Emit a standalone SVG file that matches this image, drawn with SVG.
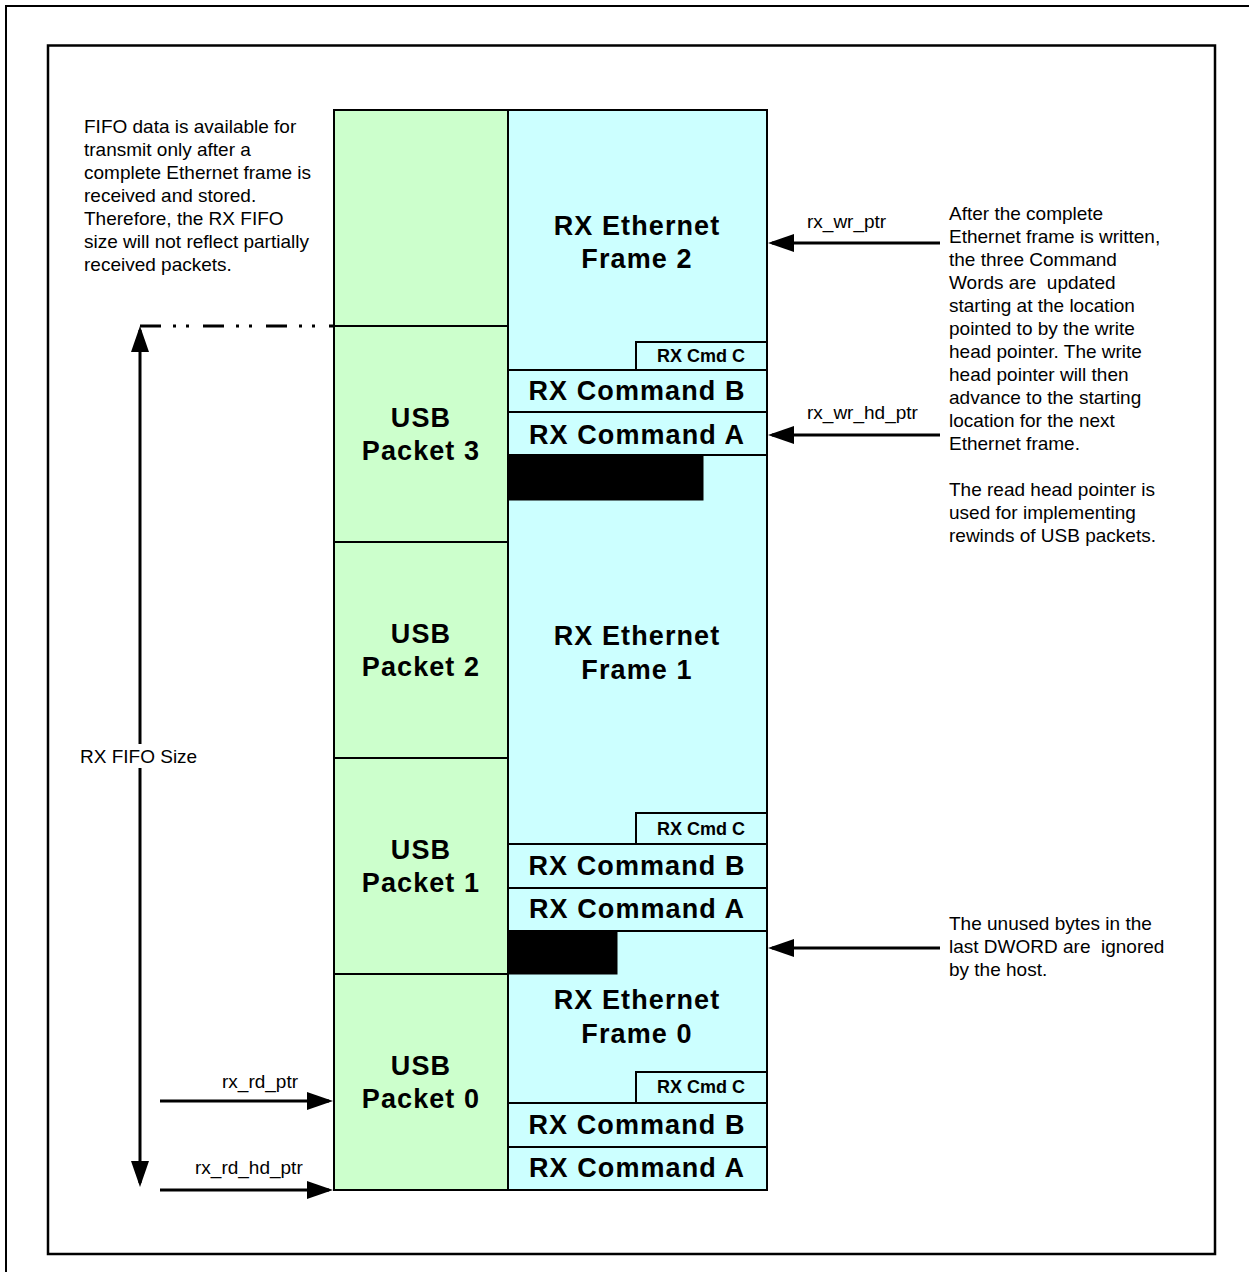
<svg xmlns="http://www.w3.org/2000/svg" width="1249" height="1272" viewBox="0 0 1249 1272">
<defs>
<style>
.t{font-family:"Liberation Sans",Arial,sans-serif;font-size:19px;fill:#000}
.b{font-family:"Liberation Sans",Arial,sans-serif;font-size:27px;font-weight:bold;fill:#000;text-anchor:middle;letter-spacing:1.1px}
.c{font-family:"Liberation Sans",Arial,sans-serif;font-size:18px;font-weight:bold;fill:#000;text-anchor:middle}
.g{fill:#CCFFCC;stroke:#000;stroke-width:2}
.y{fill:#CCFFFF;stroke:#000;stroke-width:2}
.k{fill:#000;stroke:#000;stroke-width:1}
.a{fill:none;stroke:#000;stroke-width:3}
</style>
<marker id="ah" markerUnits="userSpaceOnUse" markerWidth="26" markerHeight="18" refX="22" refY="9" orient="auto">
<path d="M0,0 L26,9 L0,18 z" fill="#000"/>
</marker>
<marker id="ahs" markerUnits="userSpaceOnUse" markerWidth="26" markerHeight="18" refX="22" refY="9" orient="auto-start-reverse">
<path d="M0,0 L26,9 L0,18 z" fill="#000"/>
</marker>
</defs>
<rect x="0" y="0" width="1249" height="1272" fill="#fff"/>
<rect x="6" y="6" width="1260" height="1290" fill="none" stroke="#000" stroke-width="2"/>
<rect x="48" y="45.5" width="1167" height="1208.5" fill="none" stroke="#000" stroke-width="2.5"/>

<g id="usb-top"><rect class="g" x="334" y="110" width="174" height="216"/></g>
<g id="usb3"><rect class="g" x="334" y="326" width="174" height="216"/><text class="b" x="421" y="427">USB</text><text class="b" x="421" y="460">Packet 3</text></g>
<g id="usb2"><rect class="g" x="334" y="542" width="174" height="216"/><text class="b" x="421" y="643">USB</text><text class="b" x="421" y="676">Packet 2</text></g>
<g id="usb1"><rect class="g" x="334" y="758" width="174" height="216"/><text class="b" x="421" y="859">USB</text><text class="b" x="421" y="892">Packet 1</text></g>
<g id="usb0"><rect class="g" x="334" y="974" width="174" height="216"/><text class="b" x="421" y="1075">USB</text><text class="b" x="421" y="1108">Packet 0</text></g>

<g id="eth-col"><rect class="y" x="508" y="110" width="259" height="1080"/></g>
<g id="frame2"><text class="b" x="637" y="235">RX Ethernet</text><text class="b" x="637" y="268">Frame 2</text></g>
<g id="cmd2"><rect class="y" x="636" y="342" width="131" height="28"/><text class="c" x="701" y="362">RX Cmd C</text>
<rect class="y" x="508" y="370" width="259" height="42"/><text class="b" x="637" y="400">RX Command B</text>
<rect class="y" x="508" y="412" width="259" height="43"/><text class="b" x="637" y="444">RX Command A</text>
<rect class="k" x="508" y="455" width="195" height="45"/></g>
<g id="frame1"><text class="b" x="637" y="645">RX Ethernet</text><text class="b" x="637" y="679">Frame 1</text></g>
<g id="cmd1"><rect class="y" x="636" y="813" width="131" height="31"/><text class="c" x="701" y="835">RX Cmd C</text>
<rect class="y" x="508" y="844" width="259" height="44"/><text class="b" x="637" y="875">RX Command B</text>
<rect class="y" x="508" y="888" width="259" height="43"/><text class="b" x="637" y="918">RX Command A</text>
<rect class="k" x="508" y="931" width="109" height="43"/></g>
<g id="frame0"><text class="b" x="637" y="1009">RX Ethernet</text><text class="b" x="637" y="1043">Frame 0</text></g>
<g id="cmd0"><rect class="y" x="636" y="1072" width="131" height="31"/><text class="c" x="701" y="1093">RX Cmd C</text>
<rect class="y" x="508" y="1103" width="259" height="44"/><text class="b" x="637" y="1134">RX Command B</text>
<rect class="y" x="508" y="1147" width="259" height="43"/><text class="b" x="637" y="1177">RX Command A</text></g>

<g id="connectors">
<path class="a" d="M140,326 H334" stroke-dasharray="21 12 3 10 3 14"/>
<path class="a" d="M140,330 V1183" marker-start="url(#ahs)" marker-end="url(#ah)"/>
<path class="a" d="M940,243 H772" marker-end="url(#ah)"/>
<path class="a" d="M940,435 H772" marker-end="url(#ah)"/>
<path class="a" d="M940,948 H772" marker-end="url(#ah)"/>
<path class="a" d="M160,1101 H329" marker-end="url(#ah)"/>
<path class="a" d="M160,1190 H329" marker-end="url(#ah)"/>
</g>

<g id="labels">
<rect x="78" y="744" width="124" height="24" fill="#fff"/>
<text class="t" x="80" y="763">RX FIFO Size</text>
<text class="t" x="807" y="228">rx_wr_ptr</text>
<text class="t" x="807" y="419">rx_wr_hd_ptr</text>
<text class="t" x="222" y="1088">rx_rd_ptr</text>
<text class="t" x="195" y="1174">rx_rd_hd_ptr</text>
</g>

<g id="note-left">
<text class="t" x="84" y="133">FIFO data is available for</text>
<text class="t" x="84" y="156">transmit only after a</text>
<text class="t" x="84" y="179">complete Ethernet frame is</text>
<text class="t" x="84" y="202">received and stored.</text>
<text class="t" x="84" y="225">Therefore, the RX FIFO</text>
<text class="t" x="84" y="248">size will not reflect partially</text>
<text class="t" x="84" y="271">received packets.</text>
</g>
<g id="note-right">
<text class="t" x="949" y="220">After the complete</text>
<text class="t" x="949" y="243">Ethernet frame is written,</text>
<text class="t" x="949" y="266">the three Command</text>
<text class="t" x="949" y="289" xml:space="preserve">Words are  updated</text>
<text class="t" x="949" y="312">starting at the location</text>
<text class="t" x="949" y="335">pointed to by the write</text>
<text class="t" x="949" y="358">head pointer. The write</text>
<text class="t" x="949" y="381">head pointer will then</text>
<text class="t" x="949" y="404">advance to the starting</text>
<text class="t" x="949" y="427">location for the next</text>
<text class="t" x="949" y="450">Ethernet frame.</text>
<text class="t" x="949" y="496">The read head pointer is</text>
<text class="t" x="949" y="519">used for implementing</text>
<text class="t" x="949" y="542">rewinds of USB packets.</text>
</g>
<g id="note-unused">
<text class="t" x="949" y="930">The unused bytes in the</text>
<text class="t" x="949" y="953" xml:space="preserve">last DWORD are  ignored</text>
<text class="t" x="949" y="976">by the host.</text>
</g>
</svg>
